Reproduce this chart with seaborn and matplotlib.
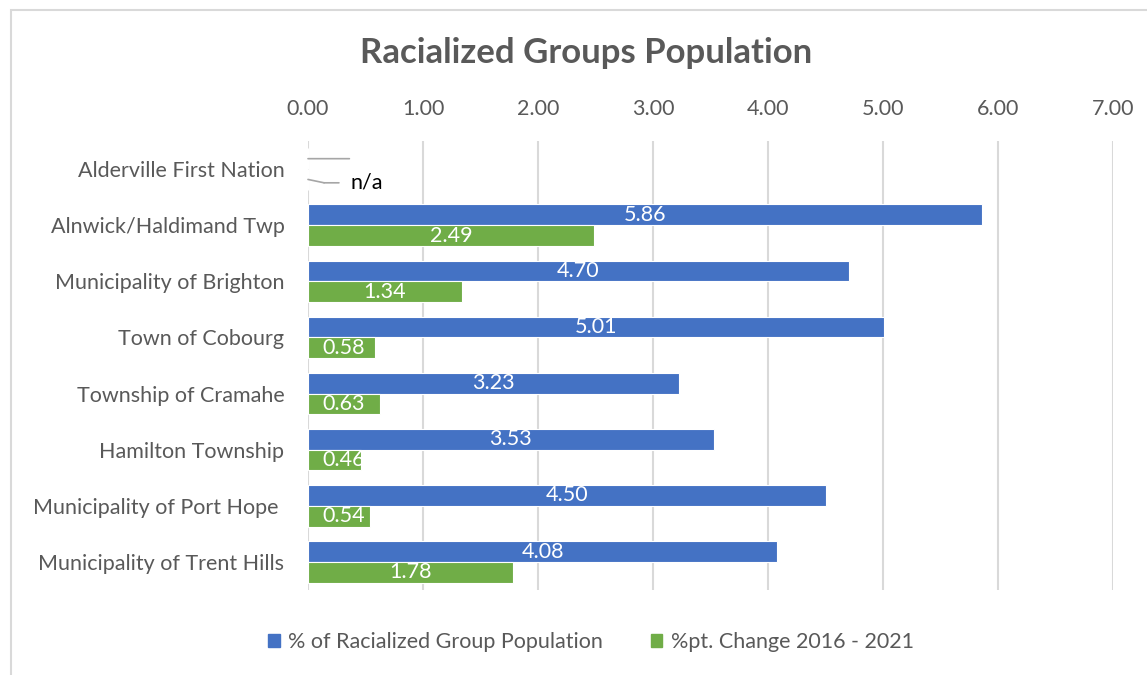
import matplotlib
matplotlib.use("Agg")
import matplotlib.pyplot as plt
import seaborn as sns
import pandas as pd
import numpy as np
from matplotlib.patches import Rectangle

categories = ["Alderville First Nation", "Alnwick/Haldimand Twp", "Municipality of Brighton",
              "Town of Cobourg", "Township of Cramahe", "Hamilton Township",
              "Municipality of Port Hope ", "Municipality of Trent Hills"]
pct_racialized = [np.nan, 5.86, 4.70, 5.01, 3.23, 3.53, 4.50, 4.08]
pct_change = [np.nan, 2.49, 1.34, 0.58, 0.63, 0.46, 0.54, 1.78]
series_names = ["% of Racialized Group Population", "%pt. Change 2016 - 2021"]
xticks = [0, 1, 2, 3, 4, 5, 6, 7]

BLUE = "#4472C4"
GREEN = "#70AD47"
GRID = "#D9D9D9"
TXT = "#595959"
FS = 15.5

sns.set_theme(style="white")
plt.rcParams['font.family'] = ['Lato', 'DejaVu Sans']

df = pd.DataFrame({
    "cat": categories * 2,
    "val": pct_racialized + pct_change,
    "series": [series_names[0]] * len(categories) + [series_names[1]] * len(categories),
})
df["plotval"] = df["val"].fillna(0)

fig = plt.figure(figsize=(11.47, 6.75), dpi=100)
ax = fig.add_axes([308 / 1147, 1 - 590 / 675, (1113 - 308) / 1147, (590 - 141) / 675])

sns.barplot(data=df, y="cat", x="plotval", hue="series", orient="h",
            palette=[BLUE, GREEN], saturation=1, width=0.74, dodge=True, ax=ax,
            edgecolor="white", linewidth=0.8, legend=False, errorbar=None)

ax.set_xlim(0, 7)
ax.set_xticks(xticks)
ax.set_xticklabels([f"{t:.2f}" for t in xticks])
ax.xaxis.tick_top()
ax.tick_params(axis="x", length=0, pad=16, labelsize=FS, labelcolor=TXT)
ax.tick_params(axis="y", length=0, pad=17, labelsize=FS, labelcolor=TXT)
ax.set_xlabel("")
ax.set_ylabel("")
for s in ax.spines.values():
    s.set_visible(False)
ax.grid(axis="x", color=GRID, linewidth=1.5)
ax.set_axisbelow(True)

# data labels
for cont, vals in zip(ax.containers, [pct_racialized, pct_change]):
    for patch, v in zip(cont.patches, vals):
        yc = patch.get_y() + patch.get_height() / 2
        if np.isnan(v):
            continue
        label = f"{v:.2f}"
        if v / 2 < 0.4:
            ax.annotate(label, xy=(0, yc), xytext=(10, 0), textcoords="offset points",
                        ha="left", va="center", color="white", fontsize=FS)
        else:
            ax.text(v / 2, yc, label, ha="center", va="center", color="white", fontsize=FS)

# n/a leader lines for the first category
p_blue = ax.containers[0].patches[0]
p_green = ax.containers[1].patches[0]
yb = p_blue.get_y() + p_blue.get_height() / 2
yg = p_green.get_y() + p_green.get_height() / 2
ax.annotate("", xy=(0, yb), xytext=(0.36, yb),
            arrowprops=dict(arrowstyle="-", color="#A6A6A6", lw=1.2, shrinkA=0, shrinkB=0))
ax.annotate("", xy=(0, yg), xytext=(0.14, yg + 0.06),
            arrowprops=dict(arrowstyle="-", color="#A6A6A6", lw=1.2, shrinkA=0, shrinkB=0))
ax.annotate("n/a", xy=(0.14, yg + 0.06), xytext=(0.37, yg + 0.06), ha="left", va="center",
            fontsize=FS, color="black",
            arrowprops=dict(arrowstyle="-", color="#A6A6A6", lw=1.2, shrinkA=6, shrinkB=0))

fig.text(586 / 1147, 1 - 53 / 675, "Racialized Groups Population", ha="center", va="center",
         fontsize=25, fontweight="bold", color=TXT)

handles = [Rectangle((0, 0), 1, 1, color=BLUE), Rectangle((0, 0), 1, 1, color=GREEN)]
fig.legend(handles, series_names, loc="center", bbox_to_anchor=(591 / 1147, 1 - 642 / 675),
           ncol=2, frameon=False, fontsize=FS, labelcolor=TXT, handlelength=0.55,
           handleheight=0.55, handletextpad=0.4, columnspacing=2.2)

fig.add_artist(Rectangle((11 / 1147, -0.1), 1.5, 1.1 - 10 / 675, transform=fig.transFigure,
                         fill=False, edgecolor=GRID, linewidth=1.5))

fig.savefig("out.png", dpi=100, facecolor="white")
